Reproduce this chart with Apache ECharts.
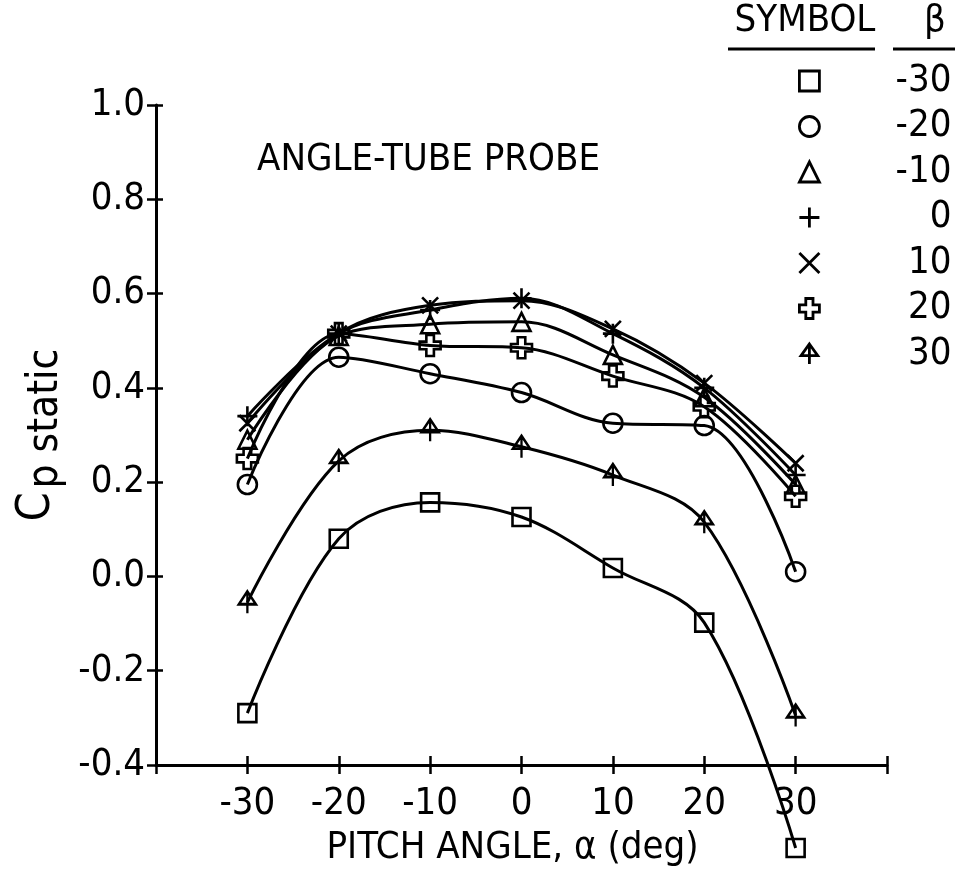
<!DOCTYPE html>
<html>
<head>
<meta charset="utf-8">
<script src="https://cdn.jsdelivr.net/npm/echarts@6/dist/echarts.min.js"></script>
<style>
html, body { margin: 0; padding: 0; background: #fff; }
#chart { width: 956px; height: 878px; }
</style>
</head>
<body>
<div id="chart"></div>
<script>
// pitch angle (deg), same for every curve
const alpha = [-30, -20, -10, 0, 10, 20, 30];
// yaw angle of each curve, in legend order
const betas = [-30, -20, -10, 0, 10, 20, 30];
// Cp static
const cpBetaM30 = [-0.29, 0.08, 0.157, 0.126, 0.018, -0.098, -0.576];
const cpBetaM20 = [0.195, 0.465, 0.43, 0.39, 0.325, 0.32, 0.01];
const cpBetaM10 = [0.29, 0.51, 0.535, 0.54, 0.47, 0.38, 0.195];
const cpBeta0 = [0.34, 0.515, 0.565, 0.59, 0.515, 0.40, 0.215];
const cpBeta10 = [0.325, 0.515, 0.575, 0.585, 0.525, 0.41, 0.24];
const cpBeta20 = [0.25, 0.515, 0.49, 0.485, 0.425, 0.36, 0.17];
const cpBeta30 = [-0.055, 0.245, 0.31, 0.275, 0.215, 0.115, -0.295];
const cpAll = [cpBetaM30, cpBetaM20, cpBetaM10, cpBeta0, cpBeta10, cpBeta20, cpBeta30];
// labelled ticks
const xTickLabels = ['-30', '-20', '-10', '0', '10', '20', '30'];
const yTickLabels = ['-0.4', '-0.2', '0.0', '0.2', '0.4', '0.6', '0.8', '1.0'];

const FONT = "'Liberation Sans Narrow', 'DejaVu Sans Condensed', 'Liberation Sans', sans-serif";

// marker shapes
const symbols = [
  'rect',
  'circle',
  'triangle',
  'path://M5,0V10M0,5H10',
  'path://M0,0L10,10M10,0L0,10',
  'path://M3.2,0H6.8V3.2H10V6.8H6.8V10H3.2V6.8H0V3.2H3.2Z',
  'path://M5,0L10,7H0ZM5,0V12'
];
const symbolSizes = [18, 19, 18, 20, 16, 21, [17, 22]];

const chart = echarts.init(document.getElementById('chart'), null, { renderer: 'canvas' });

const series = cpAll.map((d, i) => ({
  name: String(betas[i]),
  type: 'line',
  data: alpha.map((a, j) => [a, d[j]]),
  smooth: 0.35,
  clip: false,
  symbol: symbols[i],
  symbolSize: symbolSizes[i],
  showSymbol: true,
  lineStyle: { color: '#000', width: 3 },
  itemStyle: { color: 'rgba(255,255,255,0)', borderColor: '#000', borderWidth: 2.6 },
  emphasis: { disabled: true },
  z: 3
}));

const axisCommon = {
  axisLine: { onZero: false, lineStyle: { color: '#000', width: 3 } },
  splitLine: { show: false },
  axisTick: { show: true, length: 9, lineStyle: { color: '#000', width: 2.5 } }
};

const option = {
  animation: false,
  grid: { left: 156, right: 69, top: 105, bottom: 113 },
  xAxis: [
    Object.assign({}, axisCommon, {
      type: 'value', min: -40, max: 40, interval: 10,
      name: 'PITCH ANGLE, \u03b1 (deg)',
      nameLocation: 'middle', nameGap: 64,
      nameTextStyle: { fontFamily: FONT, fontSize: 38, color: '#000', padding: [0, 18, 0, 0] },
      axisLabel: {
        margin: 20, fontFamily: FONT, fontSize: 38, color: '#000',
        formatter: v => xTickLabels.includes(String(v)) ? String(v) : ''
      }
    }),
    {
      type: 'value', min: -40, max: 40, interval: 10, position: 'bottom',
      axisLine: { show: false, onZero: false }, axisLabel: { show: false }, splitLine: { show: false },
      axisTick: { show: true, inside: true, length: 9, lineStyle: { color: '#000', width: 2.5 } }
    }
  ],
  yAxis: [
    Object.assign({}, axisCommon, {
      type: 'value', min: -0.4, max: 1.0, interval: 0.2,
      name: '{c|C}{s|p static}',
      nameLocation: 'middle', nameGap: 74, nameRotate: 90,
      nameTextStyle: {
        rich: {
          c: { fontFamily: FONT, fontSize: 46, color: '#000' },
          s: { fontFamily: FONT, fontSize: 42, color: '#000', padding: [18, 0, 0, 4] }
        }
      },
      axisLabel: {
        margin: 11, fontFamily: FONT, fontSize: 38, color: '#000',
        formatter: v => {
          const s = v.toFixed(1);
          return yTickLabels.includes(s) ? s : (s === '-0.0' ? '0.0' : '');
        }
      }
    }),
    {
      type: 'value', min: -0.4, max: 1.0, interval: 0.2, position: 'left',
      axisLine: { show: false, onZero: false }, axisLabel: { show: false }, splitLine: { show: false },
      axisTick: { show: true, inside: true, length: 7, lineStyle: { color: '#000', width: 2.5 } }
    }
  ],
  legend: {
    orient: 'vertical',
    left: 793, top: 57,
    itemWidth: 20, itemHeight: 20, itemGap: 7.5,
    selectedMode: false,
    data: betas.map((b, i) => ({ name: String(b), icon: symbols[i] })),
    itemStyle: { color: 'rgba(255,255,255,0)', borderColor: '#000', borderWidth: 2.8 },
    formatter: name => '{v|' + name + '}',
    textStyle: {
      rich: {
        v: { width: 127, align: 'right', fontFamily: FONT, fontSize: 38, lineHeight: 42, color: '#000' }
      }
    }
  },
  graphic: [
    { type: 'text', style: { x: 257, y: 160, text: 'ANGLE-TUBE PROBE', font: '38px ' + FONT, fill: '#000', verticalAlign: 'middle' } },
    { type: 'text', style: { x: 805, y: 21, text: 'SYMBOL', font: '38px ' + FONT, fill: '#000', align: 'center', verticalAlign: 'middle' } },
    { type: 'text', style: { x: 935, y: 21, text: '\u03b2', font: '38px ' + FONT, fill: '#000', align: 'center', verticalAlign: 'middle' } },
    { type: 'line', shape: { x1: 728, y1: 49, x2: 875, y2: 49 }, style: { stroke: '#000', lineWidth: 3 } },
    { type: 'line', shape: { x1: 893, y1: 49, x2: 955, y2: 49 }, style: { stroke: '#000', lineWidth: 3 } }
  ],
  series: series
};

chart.setOption(option);
</script>
</body>
</html>
